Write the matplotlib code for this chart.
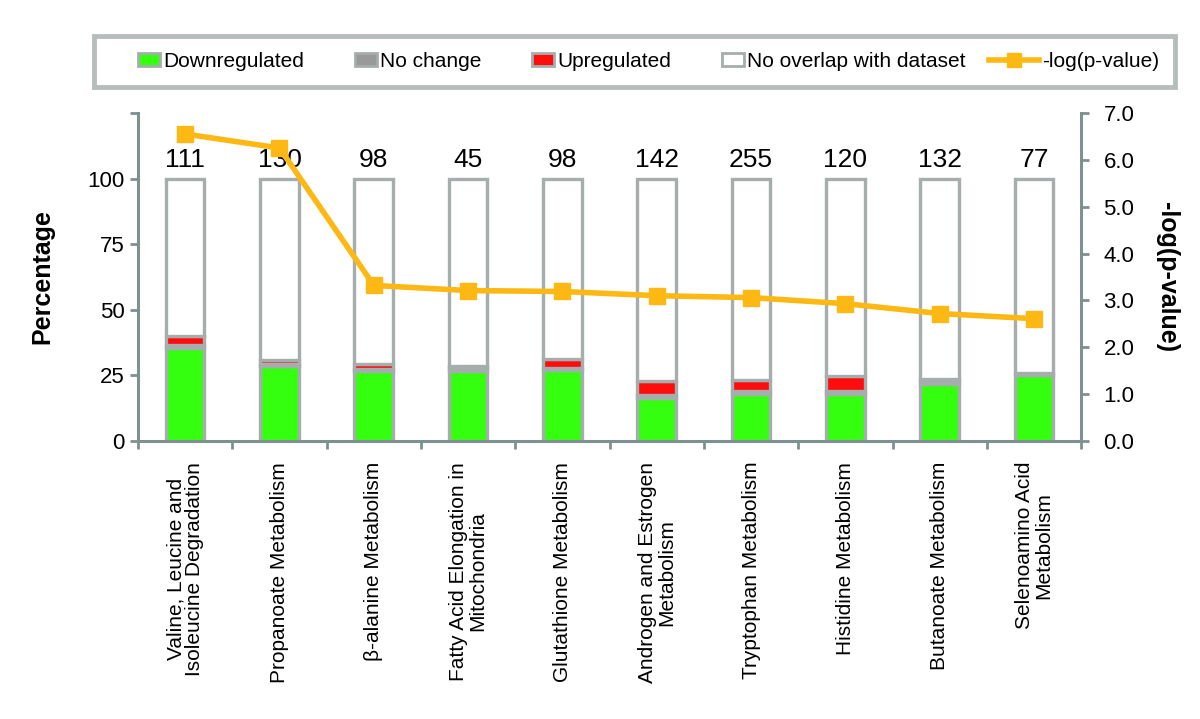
import matplotlib
matplotlib.use("Agg")
import matplotlib.pyplot as plt
import numpy as np
from matplotlib.lines import Line2D
from matplotlib.patches import Patch, Rectangle
from matplotlib.legend_handler import HandlerPatch

plt.rcParams['font.family'] = ['Liberation Sans', 'DejaVu Sans']

categories = [
    "Valine, Leucine and\nIsoleucine Degradation",
    "Propanoate Metabolism",
    "β-alanine Metabolism",
    "Fatty Acid Elongation in\nMitochondria",
    "Glutathione Metabolism",
    "Androgen and Estrogen\nMetabolism",
    "Tryptophan Metabolism",
    "Histidine Metabolism",
    "Butanoate Metabolism",
    "Selenoamino Acid\nMetabolism",
]
totals = [111, 130, 98, 45, 98, 142, 255, 120, 132, 77]
down = [35.5, 28.5, 26.5, 26.7, 27.0, 16.5, 18.0, 18.0, 21.8, 25.0]
nochange = [1.0, 1.0, 1.0, 1.0, 1.0, 1.0, 1.0, 1.0, 1.0, 1.0]
up = [3.6, 1.2, 2.0, 1.0, 3.2, 5.5, 4.3, 5.7, 0.8, 0.0]
neglogp = [6.55, 6.25, 3.32, 3.21, 3.19, 3.10, 3.06, 2.93, 2.72, 2.61]

GREEN = '#33ff0f'
GRAY = '#999999'
RED = '#ff0d0d'
EDGE = '#a5adad'
ORANGE = '#fdb813'
AX = '#7f9090'

fig = plt.figure(figsize=(12, 7.19), dpi=100)
ax = fig.add_axes([0.115, 0.3866, 0.786, 0.4564])
x = np.arange(len(categories))
down_a = np.array(down)
nc_a = np.array(nochange)
up_a = np.array(up)
noov = 100 - down_a - nc_a - up_a
w = 0.41
kw = dict(width=w, edgecolor=EDGE, linewidth=2.4, zorder=2)
ax.bar(x, down_a, color=GREEN, **kw)
ax.bar(x, nc_a, bottom=down_a, color=GRAY, **kw)
ax.bar(x, up_a, bottom=down_a + nc_a, color=RED, **kw)
ax.bar(x, noov, bottom=down_a + nc_a + up_a, color='white', **kw)
for xi, t in zip(x, totals):
    ax.text(xi, 102.3, str(t), ha='center', va='bottom', fontsize=19, zorder=3)

ax.set_xlim(-0.5, len(categories) - 0.5)
ax.set_ylim(0, 125)
ax.set_yticks([0, 25, 50, 75, 100, 125])
ax.set_yticklabels(['0', '25', '50', '75', '100', ''])
ax.set_xticks(x)
ax.set_xticklabels(categories, rotation=90, fontsize=15, ha='center', va='top',
                   multialignment='center', linespacing=1.0)
ax.set_xticks(np.arange(len(categories) + 1) - 0.5, minor=True)
ax.tick_params(axis='x', which='major', length=0, pad=15)
ax.tick_params(axis='x', which='minor', length=6, width=2, color=AX, direction='out')
ax.tick_params(axis='y', length=6, width=2, color=AX, labelsize=16, direction='out')
for s in ['top', 'right']:
    ax.spines[s].set_visible(False)
for s in ['left', 'bottom']:
    ax.spines[s].set_color(AX)
    ax.spines[s].set_linewidth(2.2)
ax.set_ylabel('Percentage', fontsize=18, fontweight='bold', labelpad=24)

ax2 = ax.twinx()
ax2.plot(x, neglogp, color=ORANGE, lw=4, marker='s', ms=11, zorder=4)
ax2.set_ylim(0, 7)
ax2.set_yticks(np.arange(0, 7.01, 1.0))
ax2.set_yticklabels([f'{v:.1f}' for v in np.arange(0, 7.01, 1.0)])
ax2.tick_params(axis='y', length=6, width=2, color=AX, labelsize=16, direction='out', pad=10)
for s in ['top', 'left', 'bottom']:
    ax2.spines[s].set_visible(False)
ax2.spines['right'].set_color(AX)
ax2.spines['right'].set_linewidth(2.2)
ax2.set_ylabel('-log(p-value)', fontsize=18, fontweight='bold', rotation=270, labelpad=32)


def small_box(legend, orig_handle, xdescent, ydescent, width, height, fontsize):
    bw = 1.05 * fontsize
    bh = 0.6 * fontsize
    return Rectangle((-xdescent + width - bw, -ydescent + (height - bh) / 2), bw, bh)


handles = [
    Patch(facecolor=GREEN, edgecolor=EDGE, linewidth=2, label='Downregulated'),
    Patch(facecolor=GRAY, edgecolor=EDGE, linewidth=2, label='No change'),
    Patch(facecolor=RED, edgecolor=EDGE, linewidth=2, label='Upregulated'),
    Patch(facecolor='white', edgecolor=EDGE, linewidth=2, label='No overlap with dataset'),
    Line2D([0], [0], color=ORANGE, lw=4, marker='s', ms=10, label='-log(p-value)'),
]
leg = fig.legend(handles=handles, loc='center', bbox_to_anchor=(634.5 / 1200, 1 - 61.5 / 719),
                 ncol=5, fontsize=15, frameon=True, fancybox=False,
                 handlelength=2.4, handleheight=0.7, handletextpad=0.15,
                 columnspacing=1.1, borderpad=0.78,
                 handler_map={Patch: HandlerPatch(patch_func=small_box)})
leg.get_frame().set_edgecolor('#a5adad')
leg.get_frame().set_linewidth(3.5)

fig.savefig('out.png', dpi=100)
